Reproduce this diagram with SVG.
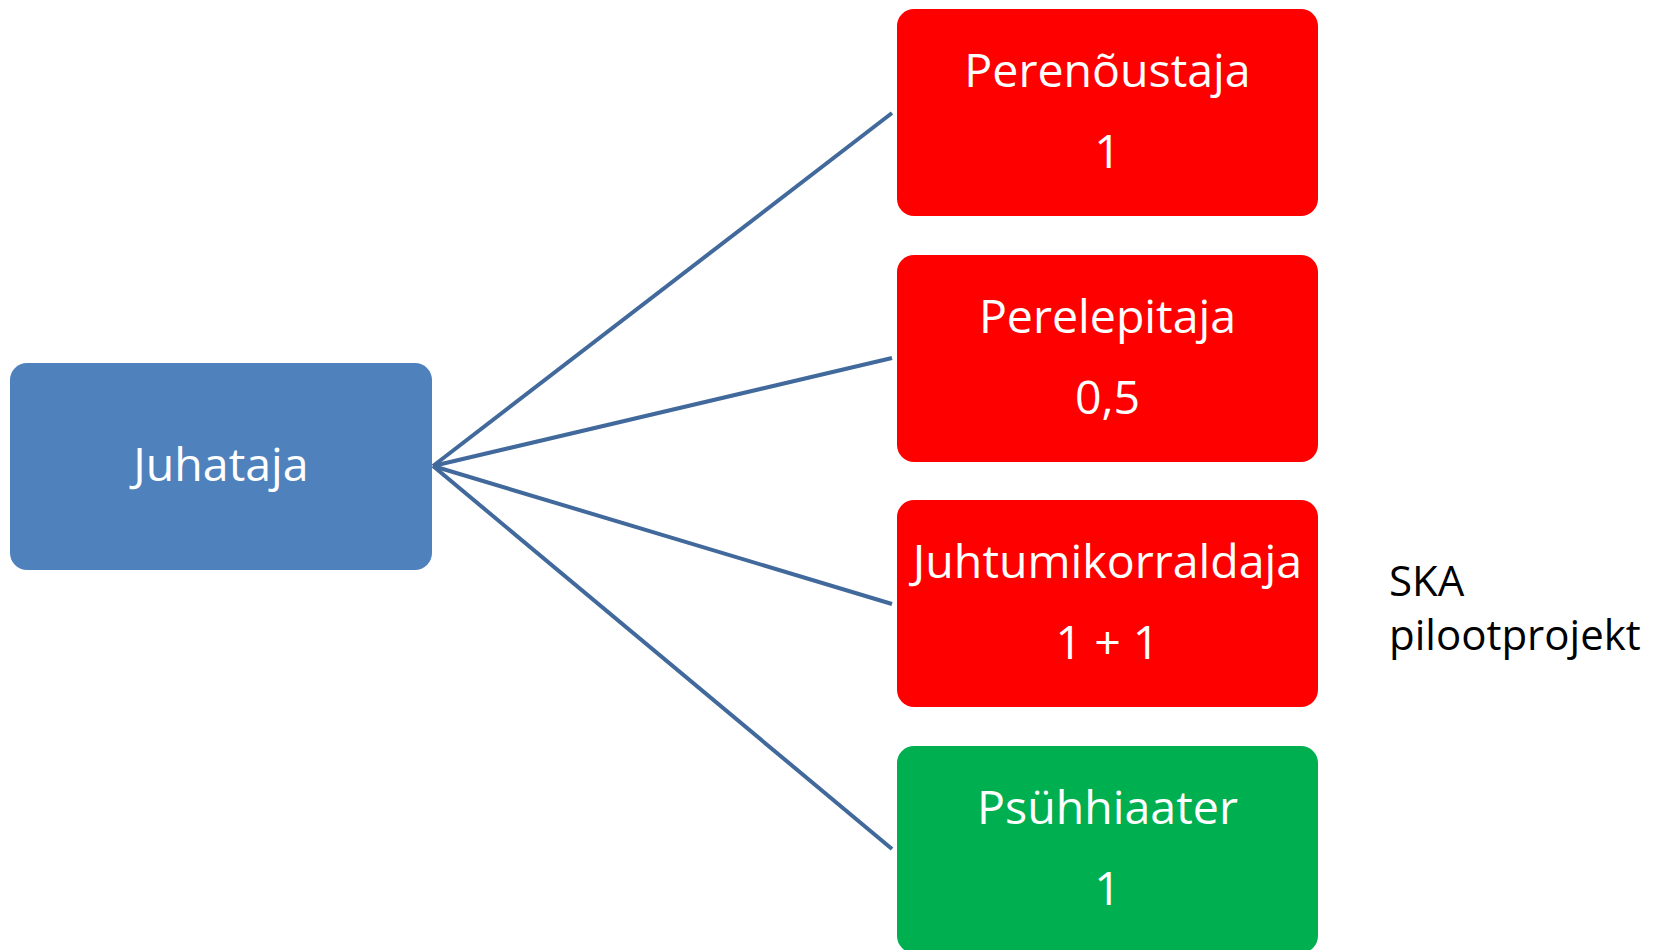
<svg xmlns="http://www.w3.org/2000/svg" width="1659" height="950" viewBox="0 0 1659 950">
<style>
.box{stroke:none}
.w{fill:#ffffff;font-family:"Open Sans","Liberation Sans",sans-serif;font-size:46.5px;text-anchor:middle}
.b{fill:#000000;font-family:"Open Sans","Liberation Sans",sans-serif;font-size:42px}
.con{stroke:#41699b;stroke-width:4;fill:none}
</style>
<rect width="1659" height="950" fill="#ffffff"/>
<g id="connectors">
<line class="con" x1="433" y1="466" x2="892" y2="113"/>
<line class="con" x1="433" y1="466" x2="892" y2="358"/>
<line class="con" x1="433" y1="466" x2="892" y2="604"/>
<line class="con" x1="433" y1="466" x2="892" y2="849"/>
</g>
<g id="juhataja">
<rect class="box" x="10" y="363" width="422" height="207" rx="17" fill="#4f81bd"/>
<text class="w" x="221" y="481">Juhataja</text>
</g>
<g id="perenoustaja">
<rect class="box" x="897" y="9" width="421" height="207" rx="17" fill="#ff0000"/>
<text class="w" x="1107.5" y="87">Perenõustaja</text>
<text class="w" x="1107.5" y="168">1</text>
</g>
<g id="perelepitaja">
<rect class="box" x="897" y="255" width="421" height="207" rx="17" fill="#ff0000"/>
<text class="w" x="1107.5" y="333">Perelepitaja</text>
<text class="w" x="1107.5" y="414">0,5</text>
</g>
<g id="juhtumikorraldaja">
<rect class="box" x="897" y="500" width="421" height="207" rx="17" fill="#ff0000"/>
<text class="w" x="1107.5" y="578">Juhtumikorraldaja</text>
<text class="w" x="1107.5" y="659">1 + 1</text>
</g>
<g id="psuhhiaater">
<rect class="box" x="897" y="746" width="421" height="207" rx="17" fill="#00b050"/>
<text class="w" x="1107.5" y="824">Psühhiaater</text>
<text class="w" x="1107.5" y="905">1</text>
</g>
<g id="ska">
<text class="b" x="1389" y="596">SKA</text>
<text class="b" x="1389" y="650">pilootprojekt</text>
</g>
</svg>
